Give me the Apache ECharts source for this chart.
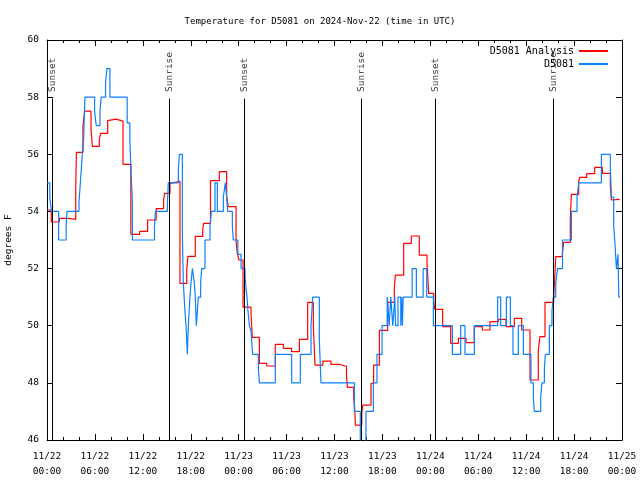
<!DOCTYPE html>
<html><head><meta charset="utf-8">
<script src="https://cdn.jsdelivr.net/npm/echarts@6/dist/echarts.min.js"></script>
<style>html,body{margin:0;padding:0;background:#fff}#c{width:640px;height:480px}</style>
</head><body><div id="c"></div>
<script>
// hours since 2024-11-22 00:00 UTC
const xTickLabels = ['11/22\n00:00','11/22\n06:00','11/22\n12:00','11/22\n18:00','11/23\n00:00','11/23\n06:00','11/23\n12:00','11/23\n18:00','11/24\n00:00','11/24\n06:00','11/24\n12:00','11/24\n18:00','11/25\n00:00'];

const sunTimes = [0.66, 15.3, 24.7, 39.36, 48.6, 63.4];
const sunNames = ['Sunset','Sunrise','Sunset','Sunrise','Sunset','Sunrise'];

// D5081 Analysis (red): change times and values
const anaTimes = [0,0.54,1.54,2.67,3.6,3.68,4.5,4.72,5.51,5.68,6.55,6.72,7.6,7.8,8.64,9.52,10.5,11.6,12.6,13.67,14.6,14.73,15.4,15.65,16.65,17.5,17.65,18.57,19.5,19.62,20.47,21.58,22.5,22.7,23.67,23.83,24.04,24.55,25.55,25.71,26.59,27.51,28.59,29.6,30.62,31.6,32.64,33.35,33.56,34.54,35.56,36.58,37.5,37.62,38.4,38.52,38.62,39.42,39.55,40.57,40.9,41.62,42.66,43.49,43.62,44.66,45.62,46.62,47.58,47.79,48.42,48.55,49.54,50.55,51.51,52.47,53.5,54.51,55.47,56.52,57.48,58.52,59.44,60.48,61.52,61.73,62.36,63.45,63.57,63.7,64.53,64.7,65.53,65.66,66.58,66.7,67.58,68.58,69.55,70.54,70.67,70.88,71.7];
const anaVals  = [54.05,53.63,53.76,53.72,54.89,56.07,57.0,57.51,56.88,56.28,56.53,56.73,57.18,57.23,57.16,55.65,53.2,53.3,53.7,54.1,54.4,54.63,54.98,55.05,51.48,52.0,52.43,53.13,53.37,53.58,55.08,55.39,54.52,54.17,53.0,52.53,52.3,50.65,50.4,49.59,48.68,48.59,49.35,49.21,49.09,49.52,50.82,50.0,48.62,48.76,48.65,48.58,48.2,47.84,47.5,47.14,46.52,46.96,47.22,47.98,48.62,49.84,50.82,51.31,51.77,52.88,53.14,52.47,52.24,51.13,50.9,50.57,49.97,49.38,49.56,49.41,49.97,49.85,50.14,50.22,49.97,50.26,49.85,48.1,49.15,49.62,50.82,51.02,51.66,52.42,52.53,52.92,53.76,54.6,55.04,55.19,55.32,55.54,55.33,54.92,54.4,54.42,54.42];

// D5081 observations (blue)
const obsTimes = [0,0.35,0.55,1.46,2.4,2.5,4.0,4.15,4.3,4.42,4.58,4.75,5.96,6.17,6.63,6.79,7.33,7.5,7.88,10.04,10.375,10.58,10.67,10.7,13.46,13.58,15.07,15.19,16.45,16.57,16.95,17.07,17.28,17.41,17.57,17.7,17.9,18.03,18.2,18.45,18.57,18.7,18.95,19.24,19.37,19.78,20.41,20.58,21.04,21.33,22.08,22.33,22.5,22.62,23.21,23.33,23.9,24.3,24.8,24.92,25.05,25.17,25.34,25.55,25.67,25.76,26.47,26.59,28.59,30.64,31.72,33.06,33.27,34.1,34.31,38.48,39.23,39.94,40.86,41.32,41.95,42.6,42.85,43.05,43.3,43.55,43.65,43.95,44.3,44.4,44.5,44.6,45.72,46.25,47.1,47.55,48.38,50.76,51.8,52.34,53.51,56.43,56.81,57.52,58.02,58.35,59.02,59.65,60.6,60.9,61.02,61.82,61.98,62.28,62.4,62.9,63.23,63.4,63.7,63.93,64.55,65.66,66.37,66.58,69.42,70.54,70.67,70.96,71.09,71.3,71.5,71.6,71.75];
const obsVals  = [55,54.5,54,53,53.5,54,54.3,54.9,55.5,56,56.5,58,57.5,57,57.5,58,58.5,59,58,57.1,56.5,55,54.5,53,53.5,54,54.2,55,55.5,56,53.2,51.5,50.5,50,49,50,51,51.5,52,51.5,51,50,51,51.5,52,53,53.5,54,55,54,54.5,55,54.5,54,53.5,53,52.5,52,51.7,51.3,51,50.5,50,49.8,49.3,49,48.5,48,49,48,49,50,51,49.5,48,47,45,47,48,49,50,51,50,51,50,51,50,51,50,51,50,51,52,51,52,51,50,49,50,49,50,51,50,51,50,49,50,49,48,47.5,47,47.5,48,48.5,49,50,50.5,51,51.5,52,53,54,54.5,55,56,55.5,54.5,53.5,53,52,52.5,51,51];

const yTicks = [46,48,50,52,54,56,58,60];

const zip = (t, v) => t.map((x, i) => [x, v[i]]);
const FONT = 'DejaVu Sans Mono';

const chart = echarts.init(document.getElementById('c'), null, {renderer: 'canvas'});
const axisBase = {
  type: 'value', min: 0, max: 72, interval: 6,
  axisLine: {show: true, onZero: false, lineStyle: {color: '#000', width: 1}},
  axisTick: {show: true, inside: true, length: 6, lineStyle: {color: '#000'}},
  minorTick: {show: true, splitNumber: 3, length: 3, lineStyle: {color: '#000'}},
  splitLine: {show: false}
};
const yBase = {
  type: 'value', min: 46, max: 60, interval: 2,
  axisLine: {show: true, onZero: false, lineStyle: {color: '#000', width: 1}},
  axisTick: {show: true, inside: true, length: 6, lineStyle: {color: '#000'}},
  splitLine: {show: false}
};

chart.setOption({
  animation: false,
  backgroundColor: '#fff',
  textStyle: {fontFamily: FONT, color: '#000'},
  title: {
    text: 'Temperature for D5081 on 2024-Nov-22 (time in UTC)',
    left: 'center', top: 12,
    textStyle: {fontFamily: FONT, fontSize: 9, fontWeight: 'normal', color: '#000'}
  },
  grid: {left: 47, right: 18, top: 40, bottom: 40, containLabel: false, outerBoundsMode: 'none'},
  legend: {
    data: ['D5081 Analysis', 'D5081'],
    orient: 'vertical', right: 26, top: 41, align: 'right',
    itemWidth: 29, itemHeight: 10, itemGap: 3,
    itemStyle: {opacity: 0},
    textStyle: {fontFamily: FONT, fontSize: 10, color: '#000'},
    selectedMode: false
  },
  xAxis: [
    Object.assign({}, axisBase, {
      position: 'bottom',
      axisLabel: {
        fontFamily: FONT, fontSize: 9.5, color: '#000', margin: 9, lineHeight: 15,
        formatter: v => xTickLabels[Math.round(v / 6)]
      }
    }),
    Object.assign({}, axisBase, {position: 'top', axisLabel: {show: false}})
  ],
  yAxis: [
    Object.assign({}, yBase, {
      position: 'left',
      name: 'degrees F', nameLocation: 'middle', nameGap: 33,
      nameTextStyle: {fontFamily: FONT, fontSize: 9.5, color: '#000'},
      axisLabel: {fontFamily: FONT, fontSize: 9.5, color: '#000', margin: 8,
        formatter: v => yTicks.indexOf(v) >= 0 ? String(v) : ''}
    }),
    Object.assign({}, yBase, {position: 'right', axisLabel: {show: false}})
  ],
  series: [
    {
      name: 'sun', type: 'line', data: [], silent: true,
      markLine: {
        silent: true, symbol: 'none', animation: false,
        label: {show: false},
        lineStyle: {color: '#000', width: 1, type: 'solid'},
        data: sunTimes.map(t => [{coord: [t, 57.95]}, {coord: [t, 46]}])
      }
    },
    {
      name: 'sunLabels', type: 'scatter', symbolSize: 0, silent: true,
      data: sunTimes.map((t, i) => ({value: [t, 58.18], name: sunNames[i]})),
      label: {
        show: true, formatter: '{b}', rotate: 90, position: [0, 0],
        align: 'left', verticalAlign: 'middle',
        fontFamily: FONT, fontSize: 9.5, color: '#000'
      }
    },
    {
      name: 'D5081 Analysis', type: 'line', step: 'end', symbol: 'none',
      color: '#ff0000', lineStyle: {color: '#ff0000', width: 1.2},
      data: zip(anaTimes, anaVals)
    },
    {
      name: 'D5081', type: 'line', step: 'end', symbol: 'none',
      color: '#0a80ff', lineStyle: {color: '#0a80ff', width: 1.2},
      data: zip(obsTimes, obsVals)
    }
  ]
});
</script>
</body></html>
